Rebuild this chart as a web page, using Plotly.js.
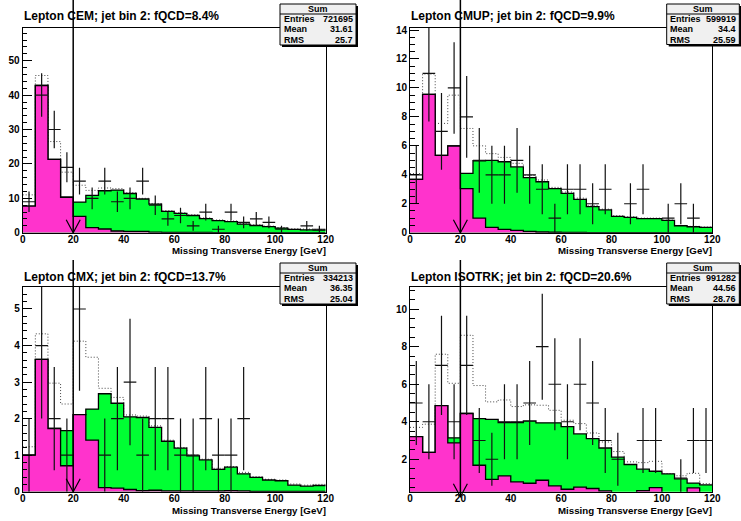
<!DOCTYPE html>
<html><head><meta charset="utf-8">
<script src="https://cdn.plot.ly/plotly-3.0.1.min.js"></script>
<style>html,body{margin:0;padding:0;background:#fff}#chart{width:741px;height:521px}</style>
</head><body><div id="chart"></div>
<script>
// ---- data ----
const binEdges = [0,5,10,15,20,25,30,35,40,45,50,55,60,65,70,75,80,85,90,95,100,105,110,115,120];
const binCenters = [2.5,7.5,12.5,17.5,22.5,27.5,32.5,37.5,42.5,47.5,52.5,57.5,62.5,67.5,72.5,77.5,82.5,87.5,92.5,97.5,102.5,107.5,112.5,117.5];
const xTickValues = [0,20,40,60,80,100,120];
const cutValue = 20;
const xAxisTitle = "Missing Transverse Energy [GeV]";
const statLabels = ["Entries","Mean","RMS"];

const cemTitle = "Lepton CEM; jet bin 2: fQCD=8.4%";
const cemQcd = [7.75,42.8,21.3,10.3,4.75,1.45,1.07,0.5,0.4,0.4,0.15,0.1,0.1,0.08,0.06,0.05,0.05,0.04,0.03,0.03,0.02,0.02,0.02,0.02];
const cemTotal = [7.75,42.8,21.3,10.3,8.9,10.85,12.2,12.4,11.4,9.8,8.3,6.2,5.6,5.0,4.1,3.5,3.2,2.5,2.1,1.75,1.35,0.95,0.85,0.75];
const cemDotted = [11.0,45.7,26.5,17.6,13.8,12.3,13.0,12.8,11.6,10.0,8.5,6.4,5.8,5.2,4.3,3.7,3.4,2.7,2.3,1.9,1.5,1.15,1.05,0.95];
const cemData = [9,40,30,19,15,10,15,9,10,15,8,4,5,2,6,1,6,3,4,3,1,0,2,1];
const cemStats = ["721695","31.61","25.7"];

const cmupTitle = "Lepton CMUP; jet bin 2: fQCD=9.9%";
const cmupQcd = [3.68,9.56,5.34,5.99,3.04,1.01,0.37,0.23,0.16,0.09,0.05,0.03,0.02,0.02,0.01,0.01,0.01,0.01,0.01,0.01,0.01,0.01,0.01,0.01];
const cmupTotal = [3.68,9.56,5.34,5.99,4.10,4.97,5.0,4.9,4.54,3.8,3.52,3.04,2.72,2.30,1.80,1.57,1.13,1.06,0.97,0.97,0.85,0.48,0.41,0.37];
const cmupDotted = [4.08,10.96,7.55,9.5,7.2,6.0,5.46,5.2,4.79,3.96,3.64,3.13,2.81,2.39,1.89,1.63,1.17,1.1,1.01,1.01,0.87,0.5,0.44,0.39];
const cmupData = [4,11,7,10,8,5,4,4,5,4,3,1,3,3,2,3,0,2,3,0,1,2,1,0];
const cmupStats = ["599919","34.4","25.59"];

const cmxTitle = "Lepton CMX; jet bin 2: fQCD=13.7%";
const cmxQcd = [1.0,3.62,1.73,0.71,2.11,1.41,0.11,0.10,0.06,0.03,0.04,0.02,0.02,0.02,0.02,0.02,0.03,0.02,0.01,0.01,0.01,0.01,0.01,0.01];
const cmxTotal = [1.0,3.62,1.73,1.67,2.11,2.26,2.68,2.42,2.05,2.03,1.76,1.38,1.19,0.98,0.87,0.61,0.67,0.49,0.39,0.32,0.30,0.18,0.155,0.17];
const cmxDotted = [1.23,4.32,2.97,2.40,4.12,3.68,2.83,2.58,2.10,2.07,1.80,1.41,1.21,1.0,0.89,0.64,0.69,0.53,0.41,0.34,0.32,0.21,0.18,0.2];
const cmxData = [1,4,2,1,5,0,1,2,3,1,2,2,1,1,2,1,1,2,0,0,0,0,0,0];
const cmxStats = ["334213","36.35","25.04"];

const isoTitle = "Lepton ISOTRK; jet bin 2: fQCD=20.6%";
const isoQcd = [3.21,2.37,4.86,2.87,4.44,1.68,0.93,1.11,0.79,0.72,0.88,0.58,0.40,0.51,0.44,0.31,0.2,0.2,0.33,0.49,0.2,0.2,0.47,0.2];
const isoTotal = [3.21,2.37,4.86,3.14,4.44,4.17,4.13,3.96,3.96,4.04,3.94,3.94,3.74,3.35,3.10,2.6,2.11,1.72,1.47,1.36,1.22,0.95,0.73,0.63];
const isoDotted = [3.7,3.87,7.6,6.05,8.61,5.93,5.06,5.16,4.81,4.9,4.88,4.61,4.08,3.90,3.40,2.92,2.41,1.86,1.82,1.89,1.23,1.12,1.25,0.7];
const isoData = [5,4,7,4,7,3,2,4,4,5,8,6,4,6,5,3,2,0,3,3,0,1,3,3];
const isoStats = ["991282","44.56","28.76"];

// ---- layout (pixel geometry) ----
const W = 741, H = 521;
const panels = [
  {title: cemTitle, qcd: cemQcd, tot: cemTotal, dot: cemDotted, dat: cemData, stats: cemStats,
   frame: {l: 22.7, r: 325.7, t: 27.7, b: 232.7}, box: {l: 280, r: 356, t: 4, b: 45}, padTop: 0,
   yRange: [0, 59.6], yDtick: 10, yMinor: 2},
  {title: cmupTitle, qcd: cmupQcd, tot: cmupTotal, dot: cmupDotted, dat: cmupData, stats: cmupStats,
   frame: {l: 410, r: 712.3, t: 27.7, b: 232.7}, box: {l: 666.7, r: 739.3, t: 4, b: 44.5}, padTop: 0,
   yRange: [0, 14.16], yDtick: 2, yMinor: 0.5},
  {title: cmxTitle, qcd: cmxQcd, tot: cmxTotal, dot: cmxDotted, dat: cmxData, stats: cmxStats,
   frame: {l: 22.7, r: 325.7, t: 286.7, b: 491.7}, box: {l: 280, r: 356, t: 263, b: 304}, padTop: 260,
   yRange: [0, 5.61], yDtick: 1, yMinor: 0.2},
  {title: isoTitle, qcd: isoQcd, tot: isoTotal, dot: isoDotted, dat: isoData, stats: isoStats,
   frame: {l: 410, r: 712.3, t: 286.7, b: 491.7}, box: {l: 666.7, r: 739.3, t: 263, b: 304}, padTop: 260,
   yRange: [0.27, 11.2], yDtick: 2, yMinor: 0.5}
];

const FONT = 'Liberation Sans, Arial, Helvetica, sans-serif';
const px = v => v / W;
const py = v => 1 - v / H;
const step = v => v.concat([v[v.length - 1]]);

const traces = [], shapes = [], annotations = [];
const layout = {
  width: W, height: H, margin: {l: 0, r: 0, t: 0, b: 0},
  paper_bgcolor: '#fff', plot_bgcolor: '#fff', showlegend: false,
  font: {family: FONT, color: '#000'}
};

panels.forEach((p, i) => {
  const n = i === 0 ? '' : String(i + 1);
  const xa = 'x' + n, ya = 'y' + n;
  const xRange = [binEdges[0], binEdges[binEdges.length - 1]];
  layout['xaxis' + n] = {
    domain: [px(p.frame.l), px(p.frame.r)], anchor: ya, range: xRange,
    tickvals: xTickValues, ticks: '', ticklabelstandoff: -3,
    showline: true, mirror: true, linecolor: '#000', linewidth: 1,
    showgrid: false, zeroline: false, fixedrange: true,
    tickfont: {family: FONT, size: 10, weight: 'bold', color: '#000'}
  };
  layout['yaxis' + n] = {
    domain: [py(p.frame.b), py(p.frame.t)], anchor: xa, range: p.yRange,
    tick0: 0, dtick: p.yDtick, ticks: 'inside', ticklen: 9, tickwidth: 1, tickcolor: '#000',
    minor: {dtick: p.yMinor, tick0: 0, ticks: 'inside', ticklen: 4.5, tickwidth: 1, tickcolor: '#000', showgrid: false},
    showline: true, mirror: true, linecolor: '#000', linewidth: 1,
    showgrid: false, zeroline: false, fixedrange: true,
    tickfont: {family: FONT, size: 10, weight: 'bold', color: '#000'}
  };
  // dotted histogram
  traces.push({x: binEdges, y: step(p.dot), xaxis: xa, yaxis: ya, type: 'scatter', mode: 'lines',
    line: {shape: 'hv', color: '#444', width: 1, dash: '1px,2px'}, hoverinfo: 'skip'});
  // total (green)
  traces.push({x: binEdges, y: step(p.tot), xaxis: xa, yaxis: ya, type: 'scatter', mode: 'lines',
    line: {shape: 'hv', color: '#000', width: 1.3}, fill: 'tozeroy', fillcolor: '#00ff33', hoverinfo: 'skip'});
  // qcd (magenta)
  traces.push({x: binEdges, y: step(p.qcd), xaxis: xa, yaxis: ya, type: 'scatter', mode: 'lines',
    line: {shape: 'hv', color: '#000', width: 1.3}, fill: 'tozeroy', fillcolor: '#ff33cc', hoverinfo: 'skip'});
  // data points (crosses only)
  traces.push({x: binCenters, y: p.dat.map(v => v > 0 ? v : null), xaxis: xa, yaxis: ya,
    type: 'scatter', mode: 'markers', marker: {size: 1, color: 'rgba(0,0,0,0)', line: {width: 0}},
    error_x: {type: 'constant', value: (binEdges[1] - binEdges[0]) / 2, width: 0, thickness: 1.2, color: '#111'},
    error_y: {type: 'data', array: p.dat.map(v => Math.sqrt(v)), width: 0, thickness: 1.2, color: '#111'},
    hoverinfo: 'skip'});

  // cut line and arrow
  const cutFrac = (cutValue - xRange[0]) / (xRange[1] - xRange[0]);
  const zeroFrac = (0 - p.yRange[0]) / (p.yRange[1] - p.yRange[0]);
  const topFrac = (p.frame.b - p.padTop) / (p.frame.b - p.frame.t);
  shapes.push({type: 'line', xref: xa + ' domain', yref: ya + ' domain',
    x0: cutFrac, x1: cutFrac, y0: zeroFrac, y1: topFrac, line: {color: '#000', width: 1.5}});
  shapes.push({type: 'path', xref: xa + ' domain', yref: ya + ' domain',
    xsizemode: 'pixel', ysizemode: 'pixel', xanchor: cutFrac, yanchor: zeroFrac,
    path: 'M-7,13L0,0L7,13', line: {color: '#000', width: 1.2}});

  // title
  annotations.push({text: '<b>' + p.title + '</b>', xref: 'paper', yref: 'paper',
    x: px(p.frame.l - 1), y: py(p.padTop + 16.5), xanchor: 'left', yanchor: 'middle',
    showarrow: false, font: {family: FONT, size: 12, color: '#000'}});
  // x axis title
  annotations.push({text: '<b>' + xAxisTitle + '</b>', xref: 'paper', yref: 'paper',
    x: px(p.frame.r + 2), y: py(p.padTop + 250.5), xanchor: 'right', yanchor: 'middle',
    showarrow: false, font: {family: FONT, size: 9.7, color: '#000'}});

  // stats box
  const b = p.box;
  shapes.push({type: 'rect', xref: 'paper', yref: 'paper', x0: px(b.l + 2), x1: px(b.r + 2),
    y0: py(b.b + 2), y1: py(b.t + 2), fillcolor: '#000', line: {width: 0}});
  shapes.push({type: 'rect', xref: 'paper', yref: 'paper', x0: px(b.l), x1: px(b.r),
    y0: py(b.b), y1: py(b.t), fillcolor: '#f0f0f0', line: {color: '#000', width: 1}});
  shapes.push({type: 'line', xref: 'paper', yref: 'paper', x0: px(b.l), x1: px(b.r),
    y0: py(b.t + 10), y1: py(b.t + 10), line: {color: '#000', width: 1}});
  annotations.push({text: '<b>Sum</b>', xref: 'paper', yref: 'paper', x: px((b.l + b.r) / 2), y: py(b.t + 5),
    xanchor: 'center', yanchor: 'middle', showarrow: false, font: {family: FONT, size: 9, color: '#000'}});
  statLabels.forEach((lab, k) => {
    const yy = py(b.t + 15 + k * 10.3);
    annotations.push({text: '<b>' + lab + '</b>', xref: 'paper', yref: 'paper', x: px(b.l + 1.5), y: yy,
      xanchor: 'left', yanchor: 'middle', showarrow: false, font: {family: FONT, size: 9, color: '#000'}});
    annotations.push({text: '<b>' + p.stats[k] + '</b>', xref: 'paper', yref: 'paper', x: px(b.r - 1), y: yy,
      xanchor: 'right', yanchor: 'middle', showarrow: false, font: {family: FONT, size: 9, color: '#000'}});
  });
});

layout.shapes = shapes;
layout.annotations = annotations;
Plotly.newPlot('chart', traces, layout, {staticPlot: true, displayModeBar: false});
</script>
</body></html>
